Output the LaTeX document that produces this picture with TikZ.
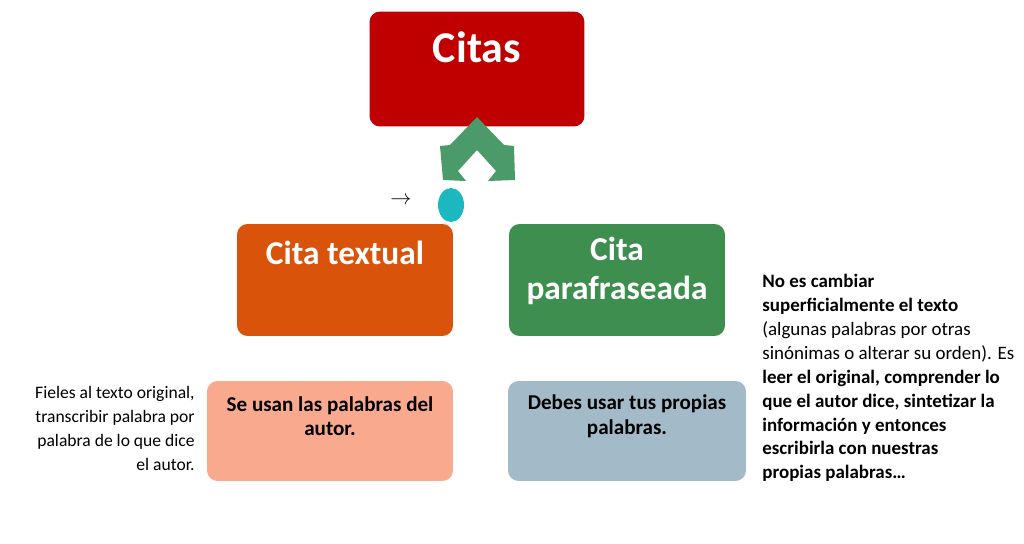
\documentclass[tikz,border=0pt]{standalone}
\usepackage{fontspec}
\setmainfont{Carlito}
\usetikzlibrary{shapes.geometric}
\definecolor{citared}{HTML}{C00000}
\definecolor{citaorange}{HTML}{D9540A}
\definecolor{citagreen}{HTML}{3E8E50}
\definecolor{citasalmon}{HTML}{F9A98D}
\definecolor{citablue}{HTML}{A3BAC8}
\definecolor{citateal}{HTML}{1BB8C0}
\definecolor{arrowgreen}{HTML}{4A9A6A}
\tikzset{
  bigbox/.style={rounded corners=6pt, inner sep=0pt},
  title/.style={text=white, font=\bfseries\fontsize{19}{22}\selectfont, align=center, inner sep=0pt},
  smalltext/.style={text=black, font=\bfseries\fontsize{12}{14}\selectfont, align=center, inner sep=0pt},
  sidetext/.style={inner sep=0pt}
}
\begin{document}
\begin{tikzpicture}[x=0.02cm,y=-0.02cm]
\useasboundingbox (0,0) rectangle (1024,544);
% top
\node[bigbox, fill=citared, minimum width=4.3cm, minimum height=2.3cm] (citas) at (477,69) {};
\node[title, font=\bfseries\fontsize{25}{28}\selectfont] (citast) at (477,47) {Citas};
% chevron
\fill[arrowgreen] (477,117) -- (450,145) -- (440,146) -- (443,180) -- (466,181) -- (458,171) -- (477,150)
  -- (496,171) -- (488,181) -- (515,180) -- (514,146) -- (504,145) -- cycle;
\node[ellipse, fill=citateal, minimum width=0.52cm, minimum height=0.68cm, inner sep=0pt] (dot) at (451,205) {};
\node[font=\fontsize{12}{12}\selectfont, inner sep=0pt] (arr) at (401,201) {$\rightarrow$};
% second row
\node[bigbox, fill=citaorange, minimum width=4.32cm, minimum height=2.24cm] (textual) at (345,280) {};
\node[title] (textualt) at (345,253) {Cita textual};
\node[bigbox, fill=citagreen, minimum width=4.32cm, minimum height=2.24cm] (para) at (617,280) {};
\node[title] (parat) at (617,271) {Cita\\parafraseada};
% third row
\node[bigbox, fill=citasalmon, minimum width=4.92cm, minimum height=2cm] (usan) at (330,431) {};
\node[smalltext] (usant) at (330,416) {Se usan las palabras del\\autor.};
\node[bigbox, fill=citablue, minimum width=4.76cm, minimum height=2cm] (debes) at (627,431) {};
\node[smalltext] (debest) at (627,416) {Debes usar tus propias\\palabras.};
% notes
\node[sidetext, font=\fontsize{10}{13.6}\selectfont, anchor=north east, align=right] (fieles) at (195,386) {Fieles al texto original,\\transcribir palabra por\\palabra de lo que dice\\el autor.};
\node[sidetext, font=\fontsize{10.8}{13.6}\selectfont, anchor=north west, align=left] (nota) at (762,274) {\textbf{No es cambiar}\\\textbf{superficialmente el texto}\\(algunas palabras por otras\\sinónimas o alterar su orden). Es\\\textbf{leer el original, comprender lo}\\\textbf{que el autor dice, sintetizar la}\\\textbf{información y entonces}\\\textbf{escribirla con nuestras}\\\textbf{propias palabras…}};
\end{tikzpicture}
\end{document}
